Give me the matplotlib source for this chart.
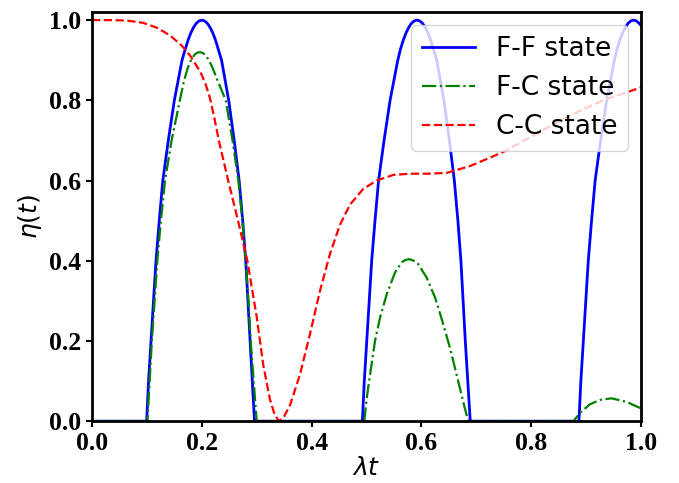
import matplotlib
matplotlib.use("Agg")
import matplotlib.pyplot as plt

# F-F state: three arches separated by flat zero stretches
ff_t = [0.0, 0.0996, 0.103, 0.1075, 0.112, 0.1166, 0.1225, 0.129, 0.139, 0.150, 0.164, 0.170, 0.175,
        0.180, 0.185, 0.190, 0.195, 0.200, 0.205, 0.210, 0.215, 0.220, 0.225, 0.236, 0.249, 0.259,
        0.268, 0.2745, 0.280, 0.284, 0.288, 0.292, 0.296,
        0.4925, 0.496, 0.5005, 0.505, 0.5095, 0.5155, 0.522, 0.532, 0.543, 0.557, 0.562, 0.567, 0.572,
        0.577, 0.582, 0.587, 0.592, 0.597, 0.602, 0.607, 0.612, 0.617, 0.628, 0.641, 0.651, 0.660,
        0.6665, 0.672, 0.676, 0.680, 0.6845, 0.689,
        0.887, 0.8905, 0.895, 0.8995, 0.904, 0.910, 0.9165, 0.9265, 0.9375, 0.9515, 0.9565, 0.9615,
        0.9665, 0.9715, 0.9765, 0.9815, 0.9865, 0.9915, 0.9965, 1.0]
ff_v = [0.0, 0.0, 0.1, 0.2, 0.3, 0.4, 0.5, 0.6, 0.7, 0.8, 0.9, 0.928, 0.95,
        0.968, 0.982, 0.992, 0.998, 1.0, 0.998, 0.992, 0.982, 0.968, 0.95, 0.9, 0.8, 0.7,
        0.6, 0.5, 0.4, 0.3, 0.2, 0.1, 0.0,
        0.0, 0.1, 0.2, 0.3, 0.4, 0.5, 0.6, 0.7, 0.8, 0.9, 0.928, 0.95, 0.968,
        0.982, 0.992, 0.998, 1.0, 0.998, 0.992, 0.982, 0.968, 0.95, 0.9, 0.8, 0.7, 0.6,
        0.5, 0.4, 0.3, 0.2, 0.1, 0.0,
        0.0, 0.1, 0.2, 0.3, 0.4, 0.5, 0.6, 0.7, 0.8, 0.9, 0.928, 0.95,
        0.968, 0.982, 0.992, 0.998, 1.0, 0.998, 0.992, 0.987]

# F-C state
fc_t = [0.0, 0.101, 0.105, 0.109, 0.114, 0.119, 0.1255, 0.133, 0.145, 0.160, 0.167, 0.174, 0.181,
        0.187, 0.192, 0.197, 0.202, 0.207, 0.213, 0.220, 0.227, 0.2436, 0.256, 0.2666, 0.274, 0.280,
        0.285, 0.289, 0.2945, 0.300,
        0.496, 0.499, 0.503, 0.5155, 0.5246, 0.537, 0.552, 0.564, 0.571, 0.578, 0.586, 0.594, 0.6096,
        0.625, 0.638, 0.652, 0.667, 0.679, 0.6855,
        0.877, 0.889, 0.907, 0.925, 0.9466, 0.974, 0.99, 1.0]
fc_v = [0.0, 0.0, 0.1, 0.2, 0.3, 0.4, 0.5, 0.6, 0.7, 0.8, 0.845, 0.879, 0.903,
        0.914, 0.919, 0.92, 0.918, 0.912, 0.9, 0.88, 0.855, 0.8, 0.7, 0.6, 0.5, 0.4,
        0.3, 0.2, 0.1, 0.0,
        0.0, 0.04, 0.083, 0.2, 0.258, 0.317, 0.371, 0.396, 0.402, 0.404, 0.4, 0.392, 0.358,
        0.308, 0.25, 0.183, 0.1, 0.033, 0.0,
        0.0, 0.021, 0.042, 0.053, 0.057, 0.048, 0.038, 0.032]

# C-C state
cc_t = [0.0, 0.03, 0.063, 0.0935, 0.118, 0.142, 0.163, 0.1785, 0.1937, 0.200, 0.2075, 0.215, 0.223,
        0.231, 0.248, 0.266, 0.283, 0.300, 0.312, 0.324, 0.333, 0.341, 0.350, 0.3607, 0.379, 0.397,
        0.4153, 0.4335, 0.4517, 0.47, 0.494, 0.5186, 0.549, 0.579, 0.61, 0.646, 0.6885, 0.749, 0.81,
        0.871, 0.931, 1.0]
cc_v = [1.0, 1.0, 0.999, 0.993, 0.981, 0.962, 0.937, 0.912, 0.879, 0.863, 0.838, 0.805, 0.755,
        0.7, 0.6, 0.5, 0.4, 0.26, 0.14, 0.055, 0.015, 0.0, 0.012, 0.04, 0.117, 0.217,
        0.325, 0.417, 0.49, 0.54, 0.579, 0.6, 0.614, 0.617, 0.617, 0.619, 0.636, 0.671, 0.717,
        0.7625, 0.8, 0.832]

ticks = [0.0, 0.2, 0.4, 0.6, 0.8, 1.0]

fig = plt.figure(figsize=(6.79, 4.83), dpi=100)
ax = fig.add_axes([0.1355, 0.128, 0.8085, 0.847])

ax.plot(ff_t, ff_v, "b-", lw=2.0, label="F-F state")
ax.plot(fc_t, fc_v, "g-.", lw=1.6, label="F-C state")
ax.plot(cc_t, cc_v, "r--", lw=1.6, label="C-C state")

ax.set_xlim(0, 1)
ax.set_ylim(0, 1.02)
ax.set_xticks(ticks)
ax.set_yticks(ticks)
tick_font = {"family": "Liberation Serif", "weight": "bold", "size": 18.5}
ax.set_xticklabels([f"{t:.1f}" for t in ticks], fontdict=tick_font)
ax.set_yticklabels([f"{t:.1f}" for t in ticks], fontdict=tick_font)
ax.tick_params(direction="out", length=4.5, width=1.5, pad=3)
for sp in ax.spines.values():
    sp.set_linewidth(2)

ax.set_xlabel(r"$\lambda t$", fontsize=18, labelpad=1)
ax.set_ylabel(r"$\eta(t)$", fontsize=18, labelpad=4)

ax.legend(loc="upper right", fontsize=19, handlelength=2.0)

fig.savefig("out.png", dpi=100)
